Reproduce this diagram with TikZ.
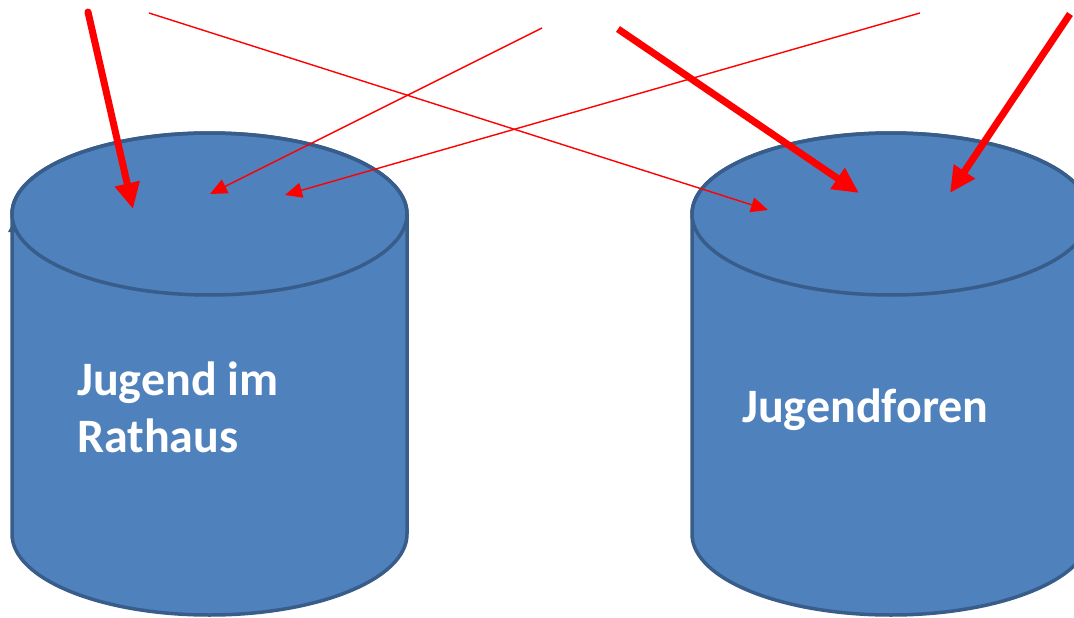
\documentclass[tikz,border=0pt]{standalone}
\usepackage{fontspec}
\setmainfont{Carlito}
\usetikzlibrary{arrows.meta}
\definecolor{cylfill}{HTML}{4F81BD}
\definecolor{cyledge}{HTML}{385D8A}
\definecolor{arrred}{HTML}{FF0000}
\tikzset{
  cyl/.style={fill=cylfill, draw=cyledge, line width=3.5pt},
  thickarr/.style={draw=arrred, line width=7pt, line cap=round, -{Triangle[length=26pt,width=24pt]}},
  thinarr/.style={draw=arrred, line width=1.4pt, -{Triangle[length=17pt,width=15pt]}},
  label/.style={text=white, font=\bfseries\fontsize{48}{57}\selectfont, align=left, inner sep=0pt}
}
\begin{document}
\begin{tikzpicture}[x=1pt,y=1pt]
\clip (0,0) rectangle (1074,-618);
\fill[white] (0,0) rectangle (1074,-618);
% left cylinder
\path[cyl] (12,-214) -- (12,-534) arc[start angle=180,end angle=360,x radius=197.5pt,y radius=81pt] -- (407,-214) arc[start angle=0,end angle=180,x radius=197.5pt,y radius=81pt] -- cycle;
\draw[cyledge, line width=3.5pt] (209.5,-214) ellipse[x radius=197.5pt,y radius=81pt];
\fill[cyledge] (8,-232) -- (13.5,-222) -- (18,-232) -- cycle;
% right cylinder
\path[cyl] (692,-214) -- (692,-534) arc[start angle=180,end angle=360,x radius=199pt,y radius=81pt] -- (1090,-214) arc[start angle=0,end angle=180,x radius=199pt,y radius=81pt] -- cycle;
\draw[cyledge, line width=3.5pt] (891,-214) ellipse[x radius=199pt,y radius=81pt];
% labels
\node[label, anchor=base west] (l1) at (77,-452) {Jugend im\\Rathaus};
\node[label, anchor=base west] (l2) at (742,-422) {Jugendforen};
% arrow coordinates
\coordinate (s1) at (88,-12);   \coordinate (t1) at (133,-209);
\coordinate (s2) at (542,-28);  \coordinate (t2) at (210,-194);
\coordinate (s3) at (920,-13);  \coordinate (t3) at (285,-195);
\coordinate (s4) at (149,-13);  \coordinate (t4) at (768,-210);
\coordinate (s5) at (618,-29);  \coordinate (t5) at (859,-193);
\coordinate (s6) at (1070,-14); \coordinate (t6) at (950,-193);
\draw[thinarr] (s2) -- (t2);
\draw[thinarr] (s3) -- (t3);
\draw[thinarr] (s4) -- (t4);
\draw[thickarr] (s1) -- (t1);
\draw[thickarr, line cap=butt] (s5) -- (t5);
\draw[thickarr, line cap=butt] (s6) -- (t6);
\end{tikzpicture}
\end{document}
